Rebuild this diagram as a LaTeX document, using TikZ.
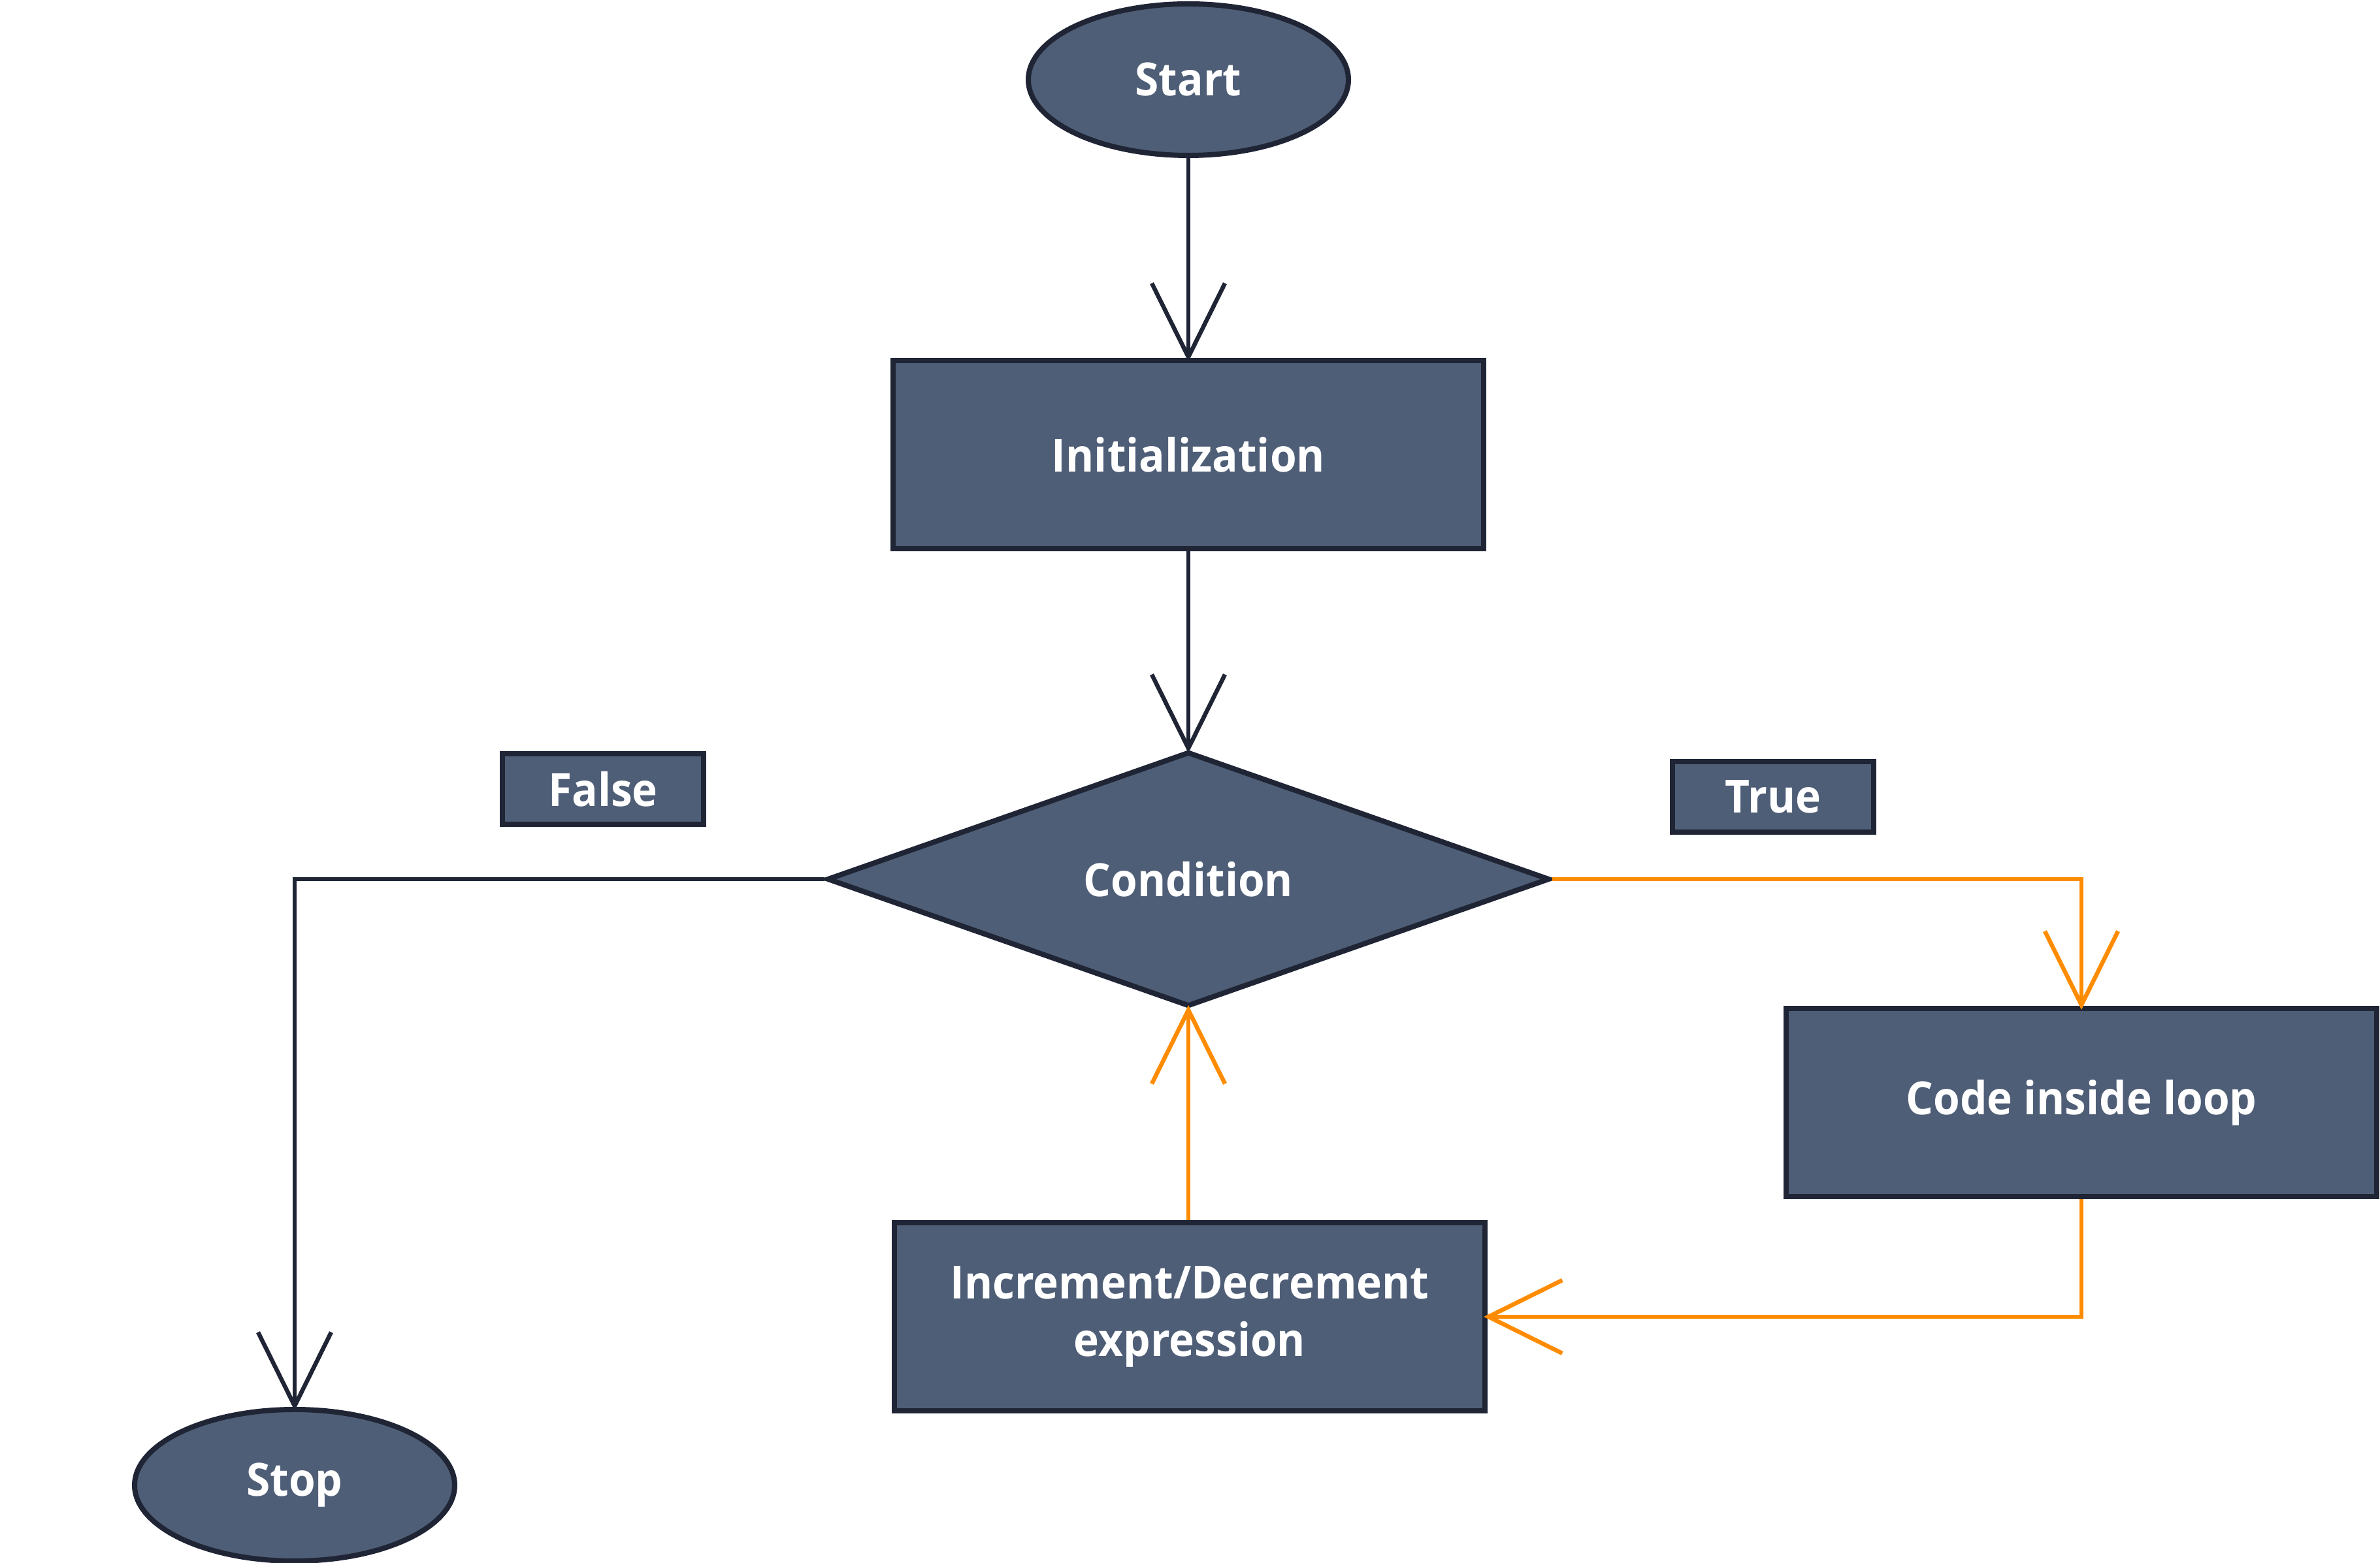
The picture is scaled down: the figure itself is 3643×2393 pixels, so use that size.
\documentclass[tikz,border=0pt]{standalone}
\usepackage{fontspec}
\setmainfont{Open Sans}[BoldFont={* Bold},BoldFeatures={FakeStretch=0.94}]
\usetikzlibrary{shapes.geometric,arrows.meta}
\definecolor{boxfill}{HTML}{4F5E77}
\definecolor{boxline}{HTML}{1F2535}
\definecolor{loopline}{HTML}{FF8C00}
\begin{document}
\begin{tikzpicture}[x=0.2pt,y=-0.2pt,
  base/.style={draw=boxline,line width=1.6pt,fill=boxfill,text=white,font=\fontsize{14}{17.6}\selectfont\bfseries,inner sep=0pt,align=center},
  term/.style={base,ellipse,minimum width=98pt,minimum height=46.4pt},
  proc/.style={base,rectangle,minimum width=180.8pt,minimum height=57.6pt},
  tag/.style={base,rectangle,minimum width=61.6pt,minimum height=21.6pt},
  cond/.style={base,diamond,minimum width=221.2pt,minimum height=78pt,aspect=2.8},
  conn/.style={line width=1.3pt,shorten >=-1.2pt,-{Straight Barb[length=22.6pt,width=22.4pt,line width=1.3pt]}},
  dark/.style={conn,draw=boxline},
  orange/.style={conn,draw=loopline}]
\useasboundingbox (0,0) rectangle (3643,2393);
\node[term] (start) at (1819,122) {Start};
\node[proc] (init) at (1819,696) {Initialization};
\node[cond] (cnd) at (1819,1346) {Condition};
\node[tag] (false) at (923,1208) {False};
\node[tag] (true) at (2714,1220) {True};
\node[proc] (code) at (3186,1688) {Code inside loop};
\node[proc] (inc) at (1821,2016) {Increment/Decrement\\expression};
\node[term] (stop) at (451,2274) {Stop};
\draw[dark] (start.south) -- (init.north);
\draw[dark] (init.south) -- (cnd.north);
\draw[dark] (cnd.west) -| (stop.north);
\draw[orange] (cnd.east) -| (code.north);
\draw[orange] (code.south) |- (inc.east);
\draw[orange] (inc.north -| cnd.south) -- (cnd.south);
\end{tikzpicture}
\end{document}
